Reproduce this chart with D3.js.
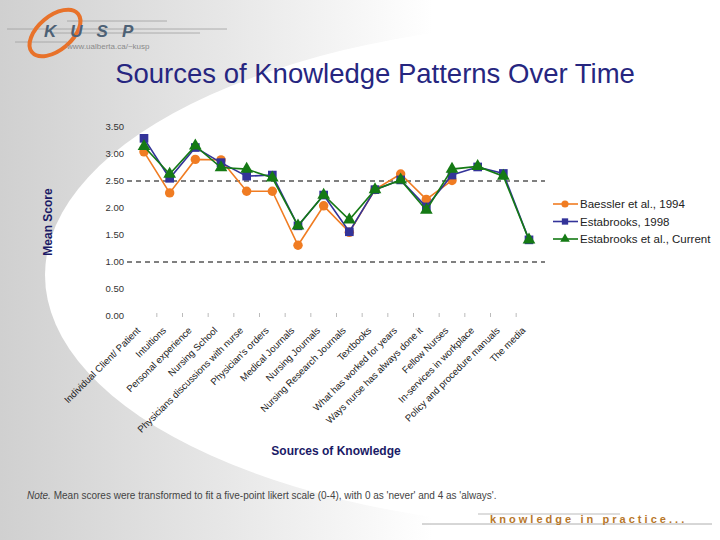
<!DOCTYPE html>
<html><head><meta charset="utf-8">
<script src="https://cdn.jsdelivr.net/npm/d3@7"></script>
<style>body{margin:0;background:#fff;}svg{display:block;font-family:"Liberation Sans",Arial,sans-serif;}</style>
</head><body>
<svg id="c" width="720" height="540"></svg>
<script>
const categories = ["Individual Client/ Patient","Intuitions","Personal experience","Nursing School",
 "Physicians discussions with nurse","Physician's orders","Medical Journals","Nursing Journals",
 "Nursing Research Journals","Textbooks","What has worked for years","Ways nurse has always done it",
 "Fellow Nurses","In-services in workplace","Policy and procedure manuals","The media"];
const baessler1994 = [3.04,2.28,2.90,2.89,2.31,2.31,1.31,2.04,1.55,2.34,2.63,2.16,2.51,null,null,null];
const estabrooks1998 = [3.29,2.55,3.12,2.84,2.59,2.61,1.67,2.24,1.56,2.34,2.52,2.02,2.61,2.76,2.64,1.41];
const estabrooksCurrent = [3.14,2.63,3.15,2.75,2.72,2.56,1.67,2.24,1.78,2.34,2.52,1.96,2.72,2.77,2.59,1.41];
const seriesNames = ["Baessler et al., 1994","Estabrooks, 1998","Estabrooks et al., Current"];
const yTicks = [0,0.5,1,1.5,2,2.5,3,3.5];
const dashedRefs = [2.5,1.0];
const title = "Sources of Knowledge Patterns Over Time";
const xTitle = "Sources of Knowledge";
const yTitle = "Mean Score";
const noteText = " Mean scores were transformed to fit a five-point likert scale (0-4), with 0 as 'never' and 4 as 'always'.";

const svg = d3.select("#c");
const defs = svg.append("defs");
const lg = defs.append("linearGradient").attr("id","bg").attr("x1","0").attr("y1","0").attr("x2","1").attr("y2","0");
lg.append("stop").attr("offset","0").attr("stop-color","#d0d0d0");
lg.append("stop").attr("offset","0.3").attr("stop-color","#e6e6e6");
lg.append("stop").attr("offset","0.6").attr("stop-color","#ffffff");
svg.append("rect").attr("width",720).attr("height",540).attr("fill","url(#bg)");
svg.append("ellipse").attr("cx",610).attr("cy",275).attr("rx",565).attr("ry",255).attr("fill","#fff");

// logo
const logo = svg.append("g");
[[67,167,21],[7,227,29],[53,200,33],[15,67,42]].forEach(l=>{
  logo.append("line").attr("x1",l[0]).attr("x2",l[1]).attr("y1",l[2]).attr("y2",l[2]).attr("stroke","#a0a0a0").attr("stroke-width",0.8);
});
logo.append("ellipse").attr("cx",55).attr("cy",33).attr("rx",30).attr("ry",17)
  .attr("transform","rotate(-40,55,33)").attr("fill","none").attr("stroke","#e8722a").attr("stroke-width",4);
logo.append("text").attr("x",44).attr("y",37).attr("font-size",17).attr("font-weight","bold").attr("font-style","italic")
  .attr("letter-spacing",14).attr("fill","#4d6175").text("KUSP");
logo.append("text").attr("x",67).attr("y",49).attr("font-size",8).attr("fill","#8a8a8a").text("www.ualberta.ca/~kusp");

svg.append("text").attr("x",375).attr("y",83).attr("text-anchor","middle").attr("font-size",27.5)
  .attr("fill","#262680").text(title);

const x = d3.scalePoint().domain(categories).range([144,529]);
const y = d3.scaleLinear().domain([0,3.5]).range([316,127]);

// y tick labels
svg.append("g").selectAll("text").data(yTicks).join("text")
  .attr("x",124).attr("y",d=>y(d)).attr("dy","0.35em").attr("text-anchor","end")
  .attr("font-size",9.5).attr("fill","#333").text(d=>d.toFixed(2));

// dashed reference lines
svg.append("g").selectAll("line").data(dashedRefs).join("line")
  .attr("x1",127).attr("x2",545).attr("y1",d=>y(d)).attr("y2",d=>y(d))
  .attr("stroke","#000").attr("stroke-width",1).attr("stroke-dasharray","5,4");

// faint category boundary ticks
const step = x.step();
svg.append("g").selectAll("line").data(categories.slice(1)).join("line")
  .attr("x1",d=>x(d)-step/2).attr("x2",d=>x(d)-step/2).attr("y1",y(0)-3).attr("y2",y(0)+1)
  .attr("stroke","#bbb").attr("stroke-width",1);

// x tick labels
svg.append("g").selectAll("text").data(categories).join("text")
  .attr("transform",d=>`translate(${x(d)-3},${y(0)+15}) rotate(-45)`)
  .attr("text-anchor","end").attr("font-size",9.6).attr("fill","#222").text(d=>d);

svg.append("text").attr("x",336).attr("y",455).attr("text-anchor","middle").attr("font-size",12)
  .attr("font-weight","bold").attr("fill","#1a1a66").text(xTitle);
svg.append("text").attr("transform","translate(52,222) rotate(-90)").attr("text-anchor","middle")
  .attr("font-size",12).attr("font-weight","bold").attr("fill","#1a1a66").text(yTitle);

const colors = ["#f07c22","#333399","#157a15"];
const data = [baessler1994, estabrooks1998, estabrooksCurrent];
const line = d3.line().defined(d=>d!=null).x((d,i)=>x(categories[i])).y(d=>y(d));
const sym = [d3.symbolCircle,d3.symbolSquare,d3.symbolTriangle];
const sizes = [70,75,70];
data.forEach((vals,k)=>{
  const g = svg.append("g");
  g.append("path").datum(vals).attr("d",line).attr("fill","none").attr("stroke",colors[k]).attr("stroke-width",1.6);
  g.selectAll("path.m").data(vals.map((v,i)=>({v,i})).filter(d=>d.v!=null)).join("path").attr("class","m")
    .attr("transform",d=>`translate(${x(categories[d.i])},${y(d.v)})`)
    .attr("d",d3.symbol().type(sym[k]).size(sizes[k])).attr("fill",colors[k]);
});

// legend
const leg = svg.append("g");
seriesNames.forEach((n,k)=>{
  const yy = 204 + k*17.5;
  leg.append("line").attr("x1",553).attr("x2",578).attr("y1",yy).attr("y2",yy).attr("stroke",colors[k]).attr("stroke-width",1.6);
  leg.append("path").attr("transform",`translate(565,${yy})`).attr("d",d3.symbol().type(sym[k]).size(40)).attr("fill",colors[k]);
  leg.append("text").attr("x",580).attr("y",yy).attr("dy","0.35em").attr("font-size",11.5).attr("fill","#222").text(n);
});

// note
const nt = svg.append("text").attr("x",27).attr("y",499).attr("font-size",10).attr("fill","#444");
nt.append("tspan").attr("font-style","italic").text("Note.");
nt.append("tspan").text(noteText);

// footer
svg.append("line").attr("x1",422).attr("x2",712).attr("y1",524).attr("y2",524).attr("stroke","#999").attr("stroke-width",0.8);
svg.append("line").attr("x1",478).attr("x2",620).attr("y1",514).attr("y2",514).attr("stroke","#aaa").attr("stroke-width",0.8);
svg.append("text").attr("x",490).attr("y",523).attr("font-size",11).attr("font-weight","bold").attr("letter-spacing",3.05)
  .attr("fill","#b8772a").text("knowledge in practice...");
</script>
</body></html>
